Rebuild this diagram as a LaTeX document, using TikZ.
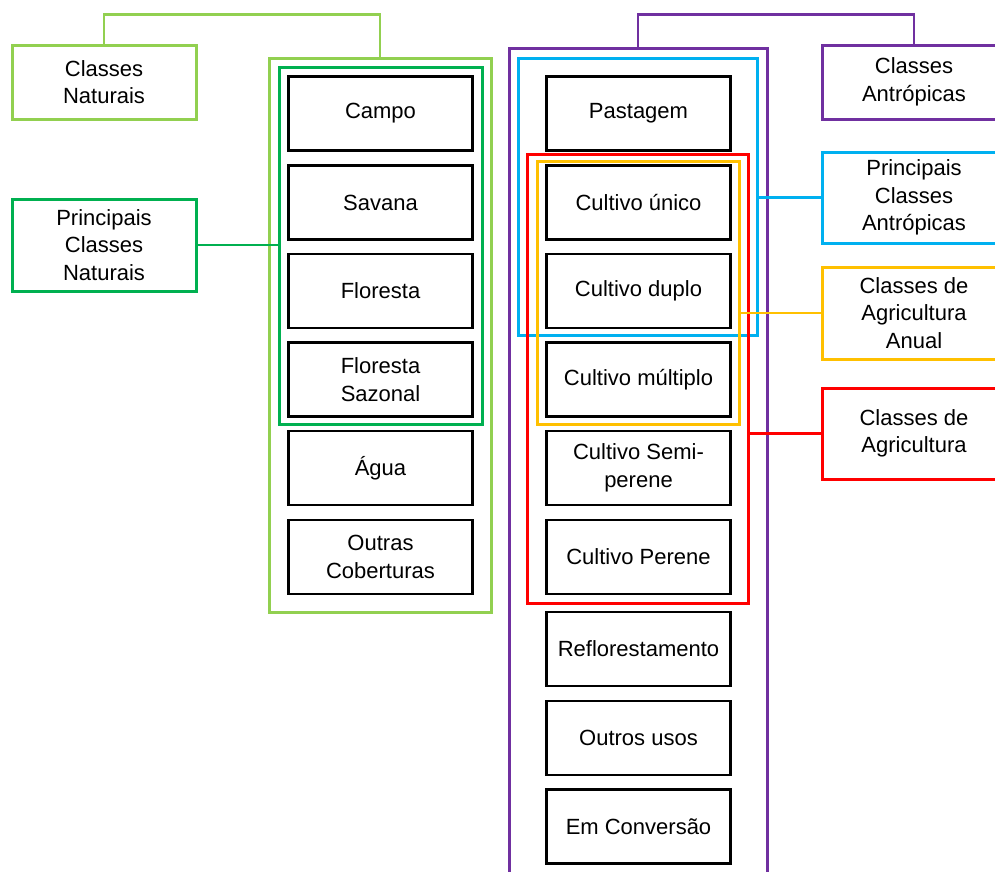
\documentclass[tikz,border=0pt]{standalone}
\usepackage{fontspec}
\setmainfont{Liberation Sans}
\definecolor{lgreen}{HTML}{92D050}
\definecolor{dgreen}{HTML}{00B050}
\definecolor{purp}{HTML}{7030A0}
\definecolor{skyb}{HTML}{00B0F0}
\definecolor{redc}{HTML}{FF0000}
\definecolor{orng}{HTML}{FFC000}
\tikzset{
  classbox/.style={draw=black, line width=2.1pt, minimum width=184pt, minimum height=74pt, inner sep=0pt, align=center, font=\fontsize{22}{27.5}\selectfont},
  labelbox/.style={draw=#1, line width=3pt, minimum width=184pt, inner sep=0pt, align=center, font=\fontsize{22}{27.5}\selectfont},
  grp/.style={draw=#1, line width=3pt, inner sep=0pt},
  conn/.style={draw=#1, line width=2.8pt}
}
\begin{document}
\begin{tikzpicture}[x=1pt,y=-1pt]
\useasboundingbox[fill=white] (0,0) rectangle (995,871);
% group frames
\node[grp=lgreen, minimum width=222pt, minimum height=554pt] (lg) at (380,335) {};
\node[grp=dgreen, minimum width=203pt, minimum height=357pt] (dg) at (380.5,245.5) {};
\node[grp=purp, minimum width=258pt, minimum height=840pt] (pu) at (638,468) {};
\node[grp=skyb, minimum width=239pt, minimum height=277pt] (bl) at (637.5,196.5) {};
\node[grp=redc, minimum width=221pt, minimum height=449pt] (rd) at (637.5,378.5) {};
\node[grp=orng, minimum width=202pt, minimum height=263pt] (or) at (638,292.5) {};
% left column
\node[classbox] (campo) at (380.5,113.5) {Campo};
\node[classbox] (savana) at (380.5,202.5) {Savana};
\node[classbox] (floresta) at (380.5,291) {Floresta};
\node[classbox] (flsaz) at (380.5,379.5) {Floresta\\Sazonal};
\node[classbox] (agua) at (380.5,468) {Água};
\node[classbox] (outrascob) at (380.5,557) {Outras\\Coberturas};
% right column
\node[classbox] (pastagem) at (638.5,113.5) {Pastagem};
\node[classbox] (unico) at (638.5,202.5) {Cultivo único};
\node[classbox] (duplo) at (638.5,291) {Cultivo duplo};
\node[classbox] (multiplo) at (638.5,379.5) {Cultivo múltiplo};
\node[classbox] (semi) at (638.5,468) {Cultivo Semi-\\perene};
\node[classbox] (perene) at (638.5,557) {Cultivo Perene};
\node[classbox] (reflo) at (638.5,649) {Reflorestamento};
\node[classbox] (outrosusos) at (638.5,738) {Outros usos};
\node[classbox] (conv) at (638.5,826.5) {Em Conversão};
% label boxes
\node[labelbox=lgreen, minimum height=74pt] (cn) at (104,82) {Classes\\Naturais};
\node[labelbox=dgreen, minimum height=92pt] (pcn) at (104,245) {Principais\\Classes\\Naturais};
\node[labelbox=purp, minimum height=74pt] (ca) at (914,82) {Classes\\Antrópicas};
\node[labelbox=skyb, minimum height=91pt] (pca) at (914,197.5) {Principais\\Classes\\Antrópicas};
\node[labelbox=orng, minimum height=92pt] (caa) at (914,313) {Classes de\\Agricultura\\Anual};
\node[labelbox=redc, minimum height=91pt] (cag) at (914,433.5) {Classes de\\Agricultura};
% connectors
\draw[conn=lgreen] (cn.north) -- ++(0,-29) -| (lg.north);
\draw[conn=purp] (pu.north) -- ++(0,-32) -| (ca.north);
\draw[conn=dgreen] (pcn.east) -- (dg.west |- pcn.east);
\draw[conn=skyb] (bl.east |- pca.west) -- (pca.west);
\draw[conn=orng] (or.east |- caa.west) -- (caa.west);
\draw[conn=redc] (rd.east |- cag.west) -- (cag.west);
\end{tikzpicture}
\end{document}
